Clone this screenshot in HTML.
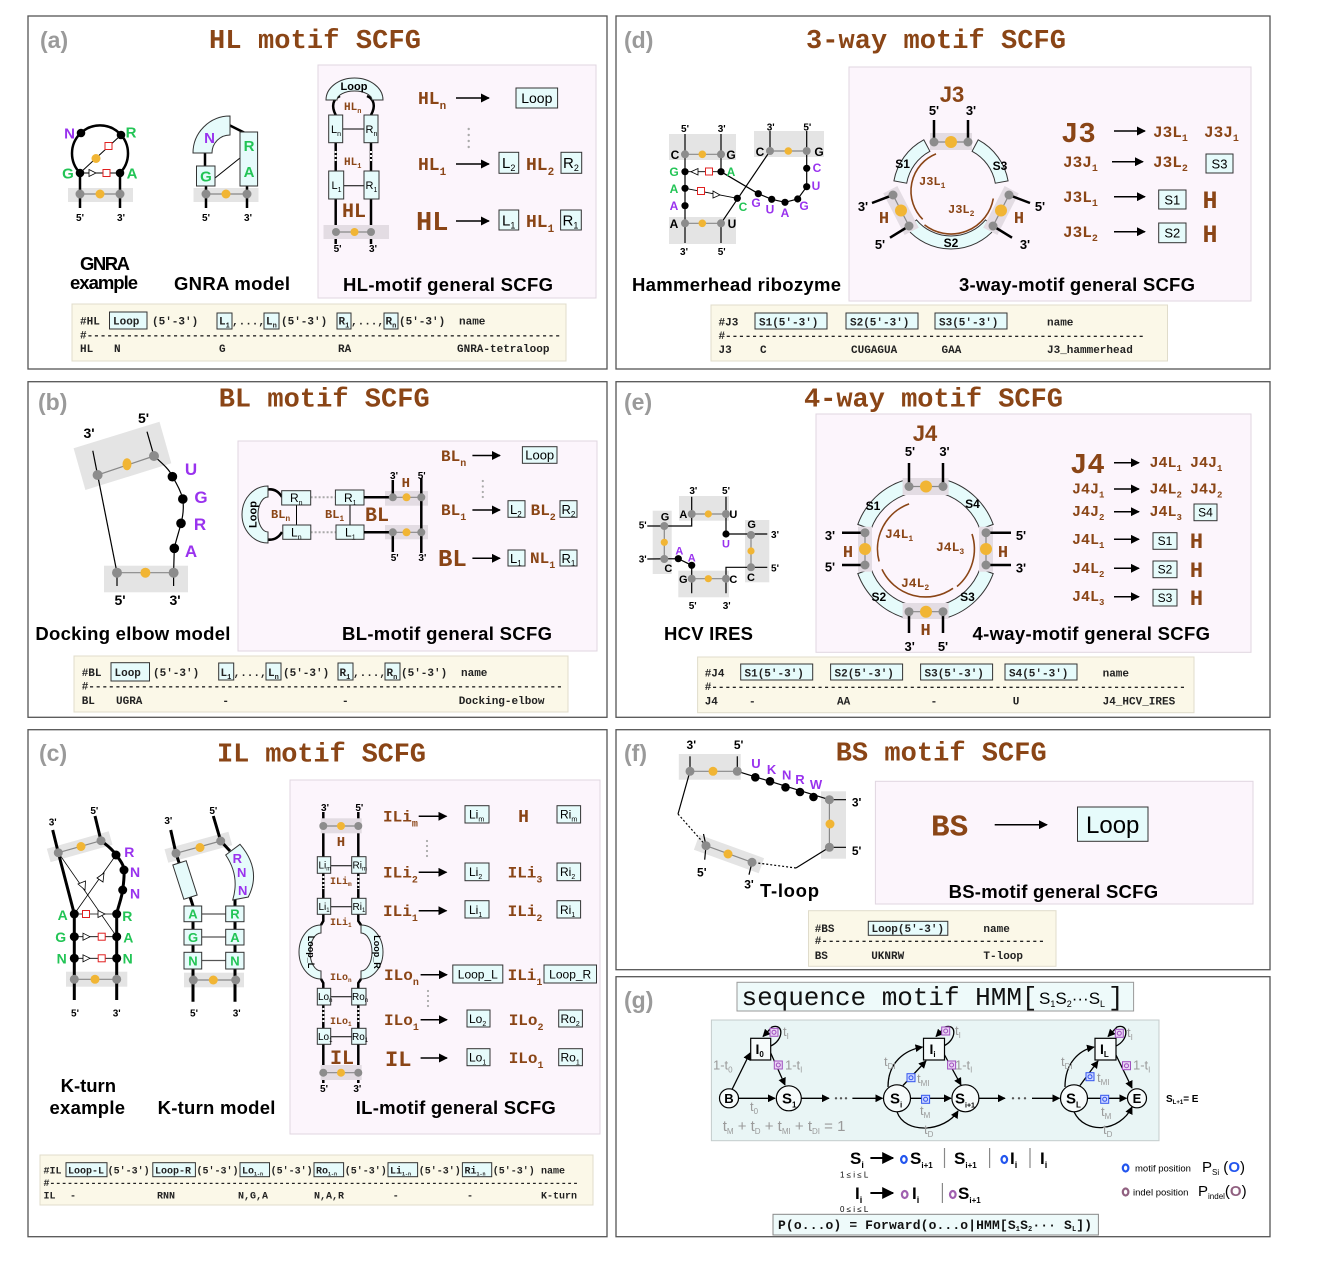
<!DOCTYPE html>
<html><head><meta charset="utf-8">
<style>
html,body{margin:0;padding:0;background:#fff;}
svg{display:block;}
.pl{font:bold 23px "Liberation Sans",sans-serif;fill:#9a9a9a}
.ttl{font:bold 27px "Liberation Mono",monospace;fill:#8a4516}
.cap{font:bold 18.5px "Liberation Sans",sans-serif;fill:#000}
.br{font-family:"Liberation Mono",monospace;font-weight:bold;fill:#8a4516}
.tb{font:bold 11px "Liberation Mono",monospace;fill:#222}
.tb10{font:bold 10px "Liberation Mono",monospace;fill:#222}
.sf{font-family:"Liberation Sans",sans-serif;font-weight:bold}
.sn{font-family:"Liberation Sans",sans-serif;fill:#000}
.bx{fill:#e6fbfb;stroke:#333;stroke-width:1}
.bnd{fill:#e4e4e4}
.bndp{fill:#e3dce3}
.gn{fill:#8c8c8c}
.yn{fill:#f1b534}
.bn{fill:#000}
.th{stroke:#000;stroke-width:2.5;fill:none}
.tn{stroke:#000;stroke-width:1;fill:none}
.gl{stroke:#888;stroke-width:1.2}
.rs{fill:#fff;stroke:#e02020;stroke-width:1}
.tri{fill:#fff;stroke:#000;stroke-width:0.8}
.ar{stroke:#000;stroke-width:1.5;marker-end:url(#ah)}
.ar2{stroke:#000;stroke-width:1.3;fill:none;marker-end:url(#ah)}
.g{fill:#22c455}
.pu{fill:#9932ee}
.p{font:bold 10px "Liberation Sans",sans-serif;fill:#000}
.gy{fill:#9a9a9a;font-family:"Liberation Sans",sans-serif}
.frame{fill:none;stroke:#555;stroke-width:1.3}
.pink{fill:#fcf5fc;stroke:#e0d6e0;stroke-width:1}
.tab{fill:#fbf8e8;stroke:#e0dccb;stroke-width:1}
.sqb{fill:#cfd8ff;stroke:#3355ee;stroke-width:1}
.sqp{fill:#ead6f4;stroke:#a050c0;stroke-width:1}
</style></head><body>
<svg xmlns="http://www.w3.org/2000/svg" width="1322" height="1276" viewBox="0 0 1322 1276">
<defs>
<marker id="ah" viewBox="0 0 10 10" refX="9" refY="5" markerWidth="6" markerHeight="6" orient="auto"><path d="M0,0 L10,5 L0,10 z" fill="#000"/></marker>
</defs>
<rect x="0" y="0" width="1322" height="1276" fill="#fff"/>

<!-- ================= PANEL A ================= -->
<rect class="frame" x="28" y="16" width="579" height="353"/>
<text class="pl" x="40" y="48">(a)</text>
<text class="ttl" x="209" y="48" textLength="212">HL motif SCFG</text>
<!-- GNRA example -->
<rect class="bnd" x="68" y="188" width="65" height="14"/>
<line x1="80" y1="173" x2="80" y2="208" stroke="#000" stroke-width="2.5"/>
<line x1="120" y1="173" x2="120" y2="208" stroke="#000" stroke-width="2.5"/>
<line class="gl" x1="80" y1="194" x2="120" y2="194"/>
<path class="th" d="M80,173 A28,28 0 1 1 120,173"/>
<line class="tn" stroke-width="0.8" x1="80" y1="173" x2="121" y2="135"/>
<line class="tn" stroke-width="0.8" x1="80" y1="173" x2="120" y2="173"/>
<circle class="yn" cx="96" cy="158.5" r="4.5"/>
<rect class="rs" x="105" y="142.5" width="7" height="7"/>
<polygon class="tri" points="89,169.5 96,173 89,176.5"/>
<rect class="rs" x="103" y="169.5" width="7" height="7"/>
<circle class="bn" cx="80" cy="173" r="4.3"/><circle class="bn" cx="120" cy="173" r="4.3"/>
<circle class="bn" cx="81" cy="133" r="4.3"/><circle class="bn" cx="121" cy="135" r="4.3"/>
<circle class="gn" cx="80" cy="194" r="4.5"/><circle class="gn" cx="120" cy="194" r="4.5"/><circle class="yn" cx="100" cy="194" r="4.5"/>
<text class="sf pu" font-size="15" x="69.5" y="138.5" text-anchor="middle">N</text>
<text class="sf g" font-size="15" x="131" y="137.5" text-anchor="middle">R</text>
<text class="sf g" font-size="15" x="68" y="178.5" text-anchor="middle">G</text>
<text class="sf g" font-size="15" x="132" y="178.5" text-anchor="middle">A</text>
<text class="p" x="80" y="221" text-anchor="middle">5'</text><text class="p" x="121" y="221" text-anchor="middle">3'</text>
<text class="cap" x="80" y="270" textLength="50">GNRA</text>
<text class="cap" x="70" y="289" textLength="68">example</text>
<!-- GNRA model -->
<rect class="bnd" x="193.5" y="188" width="65" height="14"/>
<line x1="206" y1="186" x2="206" y2="208" stroke="#000" stroke-width="2.5"/>
<line x1="247" y1="186" x2="247" y2="208" stroke="#000" stroke-width="2.5"/>
<line class="gl" x1="206" y1="194" x2="247" y2="194"/>
<circle class="gn" cx="206" cy="194" r="4.5"/><circle class="gn" cx="247" cy="194" r="4.5"/><circle class="yn" cx="226" cy="194" r="4.5"/>
<line x1="205" y1="166" x2="205" y2="152" stroke="#000" stroke-width="2.5"/>
<line x1="229" y1="125" x2="245" y2="133" stroke="#000" stroke-width="2.5"/>
<line class="tn" x1="215" y1="178" x2="240" y2="158"/>
<path class="bx" d="M193,153 A37,37 0 0 1 230,116 L230,135 A18,18 0 0 0 212,153 Z"/>
<rect class="bx" x="196.5" y="166" width="18.5" height="20"/>
<rect class="bx" x="240" y="132" width="17.6" height="54"/>
<text class="sf pu" font-size="15" x="209.5" y="143" text-anchor="middle">N</text>
<text class="sf g" font-size="15" x="249" y="151" text-anchor="middle">R</text>
<text class="sf g" font-size="15" x="249" y="177" text-anchor="middle">A</text>
<text class="sf g" font-size="15" x="206" y="181.5" text-anchor="middle">G</text>
<text class="p" x="206" y="221" text-anchor="middle">5'</text><text class="p" x="248" y="221" text-anchor="middle">3'</text>
<text class="cap" x="174" y="290" textLength="116">GNRA model</text>
<!-- HL general -->
<rect class="pink" x="318" y="65" width="278" height="233"/>
<path class="th" d="M335.7,115 C331,106 333,99 340,96"/>
<path class="th" d="M371,115 C376,106 374,99 367,96"/>
<path class="bx" d="M326,100 A28.5,22 0 0 1 383,100 L372,100 A17.5,9 0 0 0 337,100 Z"/>
<text class="sf" font-size="11" x="354" y="90" text-anchor="middle">Loop</text>
<text class="br" font-size="11" x="344" y="110">HL<tspan font-size="7" dy="3">n</tspan></text>
<line x1="335.7" y1="142" x2="335.7" y2="172" stroke="#000" stroke-width="2.5"/>
<line x1="371" y1="142" x2="371" y2="172" stroke="#000" stroke-width="2.5"/>
<line x1="335.7" y1="151" x2="335.7" y2="162" stroke="#fff" stroke-width="2" stroke-dasharray="2,2"/>
<line x1="371" y1="151" x2="371" y2="162" stroke="#fff" stroke-width="2" stroke-dasharray="2,2"/>
<line x1="335.7" y1="199" x2="335.7" y2="244" stroke="#000" stroke-width="2.5"/>
<line x1="371" y1="199" x2="371" y2="244" stroke="#000" stroke-width="2.5"/>
<line class="tn" x1="342" y1="129" x2="364" y2="129"/>
<line class="tn" x1="343" y1="185.7" x2="364" y2="185.7"/>
<rect class="bx" x="328.7" y="115" width="14" height="27.7"/><text class="sn" font-size="11" x="331" y="133">L<tspan font-size="7" dy="3">n</tspan></text>
<rect class="bx" x="364" y="115" width="14" height="27.7"/><text class="sn" font-size="11" x="365.5" y="133">R<tspan font-size="7" dy="3">n</tspan></text>
<text class="br" font-size="11" x="344" y="165">HL<tspan font-size="7" dy="3">1</tspan></text>
<rect class="bx" x="328.7" y="171" width="15" height="28"/><text class="sn" font-size="11" x="331.5" y="189">L<tspan font-size="7" dy="3">1</tspan></text>
<rect class="bx" x="364" y="171" width="15" height="28"/><text class="sn" font-size="11" x="365.5" y="189">R<tspan font-size="7" dy="3">1</tspan></text>
<text class="br" font-size="20" x="342" y="217">HL</text>
<rect class="bndp" x="323.5" y="225" width="65.5" height="14"/>
<line class="gl" x1="336" y1="232" x2="371" y2="232"/>
<circle class="gn" cx="336" cy="232" r="4"/><circle class="gn" cx="371" cy="232" r="4"/><circle class="yn" cx="354.5" cy="232" r="4"/>
<text class="p" font-size="9" x="337.6" y="252" text-anchor="middle">5'</text><text class="p" font-size="9" x="373" y="252" text-anchor="middle">3'</text>
<text class="br" font-size="18" x="418" y="104">HL<tspan font-size="11" dy="5">n</tspan></text>
<line class="ar" x1="456" y1="98" x2="489" y2="98"/>
<rect class="bx" x="516" y="88" width="41.6" height="20"/><text class="sn" font-size="14" x="536.8" y="103" text-anchor="middle">Loop</text>
<circle cx="468.7" cy="129" r="1.2" fill="#aaa"/><circle cx="468.7" cy="135" r="1.2" fill="#aaa"/><circle cx="468.7" cy="141" r="1.2" fill="#aaa"/><circle cx="468.7" cy="147" r="1.2" fill="#aaa"/>
<text class="br" font-size="18" x="418" y="170">HL<tspan font-size="11" dy="5">1</tspan></text>
<line class="ar" x1="456" y1="164" x2="489" y2="164"/>
<rect class="bx" x="499" y="152.3" width="19.7" height="21"/><text class="sn" font-size="15" x="502" y="168">L<tspan font-size="9" dy="3">2</tspan></text>
<text class="br" font-size="18" x="526" y="170">HL<tspan font-size="11" dy="5">2</tspan></text>
<rect class="bx" x="561" y="152.3" width="20.7" height="21"/><text class="sn" font-size="15" x="563" y="168">R<tspan font-size="9" dy="3">2</tspan></text>
<text class="br" font-size="27" x="416" y="230">HL</text>
<line class="ar" x1="456" y1="221" x2="489" y2="221"/>
<rect class="bx" x="499" y="210" width="19.7" height="20"/><text class="sn" font-size="15" x="502" y="225.5">L<tspan font-size="9" dy="3">1</tspan></text>
<text class="br" font-size="18" x="526" y="227">HL<tspan font-size="11" dy="5">1</tspan></text>
<rect class="bx" x="560.6" y="210" width="20.7" height="20"/><text class="sn" font-size="15" x="562.5" y="225.5">R<tspan font-size="9" dy="3">1</tspan></text>
<text class="cap" x="343" y="291" textLength="210">HL-motif general SCFG</text>
<!-- table a -->
<rect class="tab" x="72" y="304" width="494" height="57"/>
<text class="tb" x="80" y="324.5">#HL</text>
<rect class="bx" x="109.5" y="312" width="37.5" height="17"/><text class="tb" x="113" y="324.5">Loop</text>
<text class="tb" x="152" y="324.5">(5'-3')</text>
<rect class="bx" x="217" y="313" width="15" height="16"/><text class="tb" x="219" y="324.5">L<tspan font-size="7" dy="3">1</tspan></text>
<text class="tb" x="232" y="324.5">,...,</text>
<rect class="bx" x="264" y="313" width="15" height="16"/><text class="tb" x="266" y="324.5">L<tspan font-size="7" dy="3">n</tspan></text>
<text class="tb" x="281" y="324.5">(5'-3')</text>
<rect class="bx" x="337" y="313" width="14" height="16"/><text class="tb" x="338.5" y="324.5">R<tspan font-size="7" dy="3">1</tspan></text>
<text class="tb" x="351" y="324.5">,...,</text>
<rect class="bx" x="384" y="313" width="14" height="16"/><text class="tb" x="385.5" y="324.5">R<tspan font-size="7" dy="3">n</tspan></text>
<text class="tb" x="399" y="324.5">(5'-3')</text>
<text class="tb" x="459" y="324.5">name</text>
<text class="tb" x="80" y="338.5" textLength="481">#------------------------------------------------------------------------</text>
<text class="tb" x="80" y="352">HL</text><text class="tb" x="114" y="352">N</text><text class="tb" x="219" y="352">G</text><text class="tb" x="338" y="352">RA</text><text class="tb" x="457" y="352">GNRA-tetraloop</text>

<!-- ================= PANEL D ================= -->
<rect class="frame" x="616" y="16" width="654" height="353"/>
<text class="pl" x="624" y="48">(d)</text>
<text class="ttl" x="806" y="48" textLength="260">3-way motif SCFG</text>
<!-- hammerhead -->
<rect class="bnd" x="669" y="134" width="67" height="26"/>
<rect class="bnd" x="669" y="217" width="67" height="27"/>
<rect class="bnd" x="754" y="131" width="70" height="26"/>
<g stroke="#000" stroke-width="1.2" fill="none">
<line x1="685" y1="134" x2="685" y2="243"/>
<line x1="721" y1="134" x2="721" y2="172"/>
<line x1="721" y1="223" x2="721" y2="243"/>
<line x1="721" y1="223.3" x2="770" y2="151"/>
<line x1="770" y1="131" x2="770" y2="151"/>
<line x1="806.7" y1="131" x2="806.7" y2="187"/>
<polyline points="721,171.7 758.3,193.7 771.7,199.3 785,202.3 797.7,199 806.7,186.7"/>
<line x1="685" y1="171.7" x2="721" y2="171.7" stroke-width="0.8"/>
<line x1="685" y1="188.3" x2="737.3" y2="198.3" stroke-width="0.8"/>
</g>
<line class="gl" x1="685" y1="154.3" x2="721" y2="154.3"/>
<line class="gl" x1="685" y1="223.3" x2="721" y2="223.3"/>
<line class="gl" x1="770" y1="151" x2="806.7" y2="151"/>
<polygon class="tri" points="698,168.5 691,171.7 698,175"/>
<rect class="rs" x="705.5" y="168" width="7" height="7"/>
<rect class="rs" x="697.5" y="187.5" width="7" height="7"/>
<polygon class="tri" points="713,191 720,195 713,198"/>
<circle class="gn" cx="685" cy="154.3" r="4"/><circle class="yn" cx="702.3" cy="154.3" r="3.8"/><circle class="gn" cx="721" cy="154.3" r="4"/>
<circle class="gn" cx="685" cy="223.3" r="4"/><circle class="yn" cx="702.3" cy="223.3" r="3.8"/><circle class="gn" cx="721" cy="223.3" r="4"/>
<circle class="gn" cx="770" cy="151" r="4"/><circle class="yn" cx="788.3" cy="151" r="3.8"/><circle class="gn" cx="806.7" cy="151" r="4"/>
<g class="bn">
<circle cx="685" cy="171.7" r="3.6"/><circle cx="685" cy="188.3" r="3.6"/><circle cx="685" cy="205.7" r="3.6"/>
<circle cx="721" cy="171.7" r="3.6"/><circle cx="737.3" cy="198.3" r="3.6"/>
<circle cx="758.3" cy="193.7" r="3.6"/><circle cx="771.7" cy="199.3" r="3.6"/><circle cx="785" cy="202.3" r="3.6"/><circle cx="797.7" cy="199" r="3.6"/>
<circle cx="806.7" cy="186.7" r="3.6"/><circle cx="806.7" cy="168.3" r="3.6"/>
</g>
<g class="sf" font-size="12" text-anchor="middle">
<text x="675" y="159">C</text><text x="731" y="159">G</text>
<text class="g" x="674" y="176">G</text><text class="g" x="674" y="193">A</text><text class="pu" x="674" y="210">A</text><text x="674" y="228">A</text>
<text class="g" x="731" y="176">A</text><text x="732" y="228">U</text>
<text x="760" y="156">C</text><text x="819" y="156">G</text>
<text class="pu" x="817" y="172">C</text><text class="pu" x="816" y="190">U</text>
<text class="g" x="743" y="211">C</text><text class="pu" x="756" y="207">G</text><text class="pu" x="770" y="213.5">U</text><text class="pu" x="785" y="217">A</text><text class="pu" x="804" y="210">G</text>
</g>
<g class="p" font-size="9" text-anchor="middle">
<text x="685" y="132">5'</text><text x="721.7" y="132">3'</text>
<text x="770.7" y="130.5">3'</text><text x="807.3" y="130.5">5'</text>
<text x="684" y="255">3'</text><text x="721.7" y="255">5'</text>
</g>
<text class="cap" x="632" y="291" textLength="209">Hammerhead ribozyme</text>
<!-- 3-way general -->
<rect class="pink" x="849" y="67" width="402" height="234"/>
<path class="bx" d="M893.9,180.9 A58,58 0 0 1 923.8,139.8 L929.9,151.3 A45,45 0 0 0 906.7,183.2 Z"/>
<path class="bx" d="M978.2,139.8 A58,58 0 0 1 1008.1,180.9 L995.3,183.2 A45,45 0 0 0 972.1,151.3 Z"/>
<path class="bx" d="M995.4,228.3 A58,58 0 0 1 906.6,228.3 L916.5,219.9 A45,45 0 0 0 985.5,219.9 Z"/>
<text class="sf" font-size="12" x="902.6" y="168" text-anchor="middle">S1</text>
<text class="sf" font-size="12" x="1000" y="170" text-anchor="middle">S3</text>
<text class="sf" font-size="12" x="951" y="247" text-anchor="middle">S2</text>
<rect class="bndp" x="930" y="133" width="42" height="17"/>
<line x1="934" y1="120" x2="934" y2="142" stroke="#000" stroke-width="2.5"/>
<line x1="968" y1="120" x2="968" y2="142" stroke="#000" stroke-width="2.5"/>
<line class="gl" x1="934" y1="142" x2="968" y2="142"/>
<circle class="gn" cx="934" cy="142" r="4.5"/><circle class="gn" cx="968" cy="142" r="4.5"/><circle class="yn" cx="951" cy="142" r="6"/>
<polygon class="bndp" points="897.4,186 918.8,227.6 904.6,235 883.2,193.4"/>
<polygon class="bndp" points="1004.6,186 983.2,227.6 997.4,235 1018.8,193.4"/>
<line x1="893" y1="195" x2="872" y2="203" stroke="#000" stroke-width="2.5"/>
<line x1="909" y1="226" x2="890" y2="237.7" stroke="#000" stroke-width="2.5"/>
<line x1="1009" y1="195" x2="1030" y2="203" stroke="#000" stroke-width="2.5"/>
<line x1="993" y1="226" x2="1012" y2="237.7" stroke="#000" stroke-width="2.5"/>
<line class="gl" x1="893" y1="195" x2="909" y2="226"/><line class="gl" x1="1009" y1="195" x2="993" y2="226"/>
<circle class="gn" cx="893" cy="195" r="4.5"/><circle class="gn" cx="909" cy="226" r="4.5"/><circle class="yn" cx="901" cy="210.5" r="6"/>
<circle class="gn" cx="1009" cy="195" r="4.5"/><circle class="gn" cx="993" cy="226" r="4.5"/><circle class="yn" cx="1001" cy="210.5" r="6"/>
<path d="M936,153.9 A40,40 0 0 0 922.7,219.3" fill="none" stroke="#8a4516" stroke-width="1.6"/>
<path d="M924.5,224.9 A43,43 0 0 0 993.3,198.5" fill="none" stroke="#8a4516" stroke-width="1.6"/>
<text class="br" font-size="12" x="919" y="185">J3L<tspan font-size="8" dy="3">1</tspan></text>
<text class="br" font-size="12" x="948" y="213">J3L<tspan font-size="8" dy="3">2</tspan></text>
<text class="sf" font-size="22" fill="#8a4516" x="952" y="102" text-anchor="middle">J3</text>
<g class="sf" font-size="13" text-anchor="middle">
<text x="934" y="115">5'</text><text x="971" y="115">3'</text>
<text x="863" y="211">3'</text><text x="880" y="249">5'</text>
<text x="1040" y="211">5'</text><text x="1025" y="249">3'</text>
</g>
<text class="br" font-size="17" x="884" y="223" text-anchor="middle">H</text>
<text class="br" font-size="17" x="1019" y="223" text-anchor="middle">H</text>
<text class="br" font-size="29" x="1061" y="142">J3</text>
<line class="ar" x1="1114" y1="131" x2="1145" y2="131"/>
<text class="br" font-size="16" x="1153" y="137">J3L<tspan font-size="10" dy="4">1</tspan></text>
<text class="br" font-size="16" x="1204" y="137">J3J<tspan font-size="10" dy="4">1</tspan></text>
<text class="br" font-size="16" x="1063" y="167">J3J<tspan font-size="10" dy="4">1</tspan></text>
<line class="ar" x1="1112" y1="161.7" x2="1143" y2="161.7"/>
<text class="br" font-size="16" x="1153" y="167">J3L<tspan font-size="10" dy="4">2</tspan></text>
<rect class="bx" x="1206" y="154" width="27" height="19"/><text class="sn" font-size="13" x="1219.5" y="168.5" text-anchor="middle">S3</text>
<text class="br" font-size="16" x="1063" y="202">J3L<tspan font-size="10" dy="4">1</tspan></text>
<line class="ar" x1="1114" y1="196.7" x2="1145" y2="196.7"/>
<rect class="bx" x="1158.7" y="190" width="27.3" height="19"/><text class="sn" font-size="13" x="1172.3" y="204.5" text-anchor="middle">S1</text>
<text class="br" font-size="25" x="1210" y="208" text-anchor="middle">H</text>
<text class="br" font-size="16" x="1063" y="237">J3L<tspan font-size="10" dy="4">2</tspan></text>
<line class="ar" x1="1114" y1="231.7" x2="1145" y2="231.7"/>
<rect class="bx" x="1158.7" y="223" width="27.3" height="19.7"/><text class="sn" font-size="13" x="1172.3" y="237.5" text-anchor="middle">S2</text>
<text class="br" font-size="25" x="1210" y="242" text-anchor="middle">H</text>
<text class="cap" x="959" y="291" textLength="236">3-way-motif general SCFG</text>
<!-- table d -->
<rect class="tab" x="711" y="305" width="456.5" height="56"/>
<text class="tb" x="718.5" y="325.5">#J3</text>
<rect class="bx" x="755" y="313" width="72" height="16"/><text class="tb" x="759" y="325.5">S1(5'-3')</text>
<rect class="bx" x="846" y="313" width="72" height="16"/><text class="tb" x="850" y="325.5">S2(5'-3')</text>
<rect class="bx" x="935" y="313" width="72" height="16"/><text class="tb" x="939" y="325.5">S3(5'-3')</text>
<text class="tb" x="1047" y="325.5">name</text>
<text class="tb" x="718.5" y="339" textLength="426">#----------------------------------------------------------------</text>
<text class="tb" x="718.5" y="353">J3</text><text class="tb" x="760" y="353">C</text><text class="tb" x="851" y="353">CUGAGUA</text><text class="tb" x="941.5" y="353">GAA</text><text class="tb" x="1047" y="353">J3_hammerhead</text>

<!-- ================= PANEL B ================= -->
<rect class="frame" x="28" y="381.7" width="579" height="335.6"/>
<text class="pl" x="38" y="410">(b)</text>
<text class="ttl" x="218.7" y="406.7" textLength="211">BL motif SCFG</text>
<!-- docking elbow -->
<polygon class="bnd" points="73.6,448.3 159.5,421.7 171.3,463.3 85.4,490"/>
<rect class="bnd" x="104" y="565.7" width="84" height="26.6"/>
<g stroke="#000" stroke-width="1.2" fill="none">
<line x1="92.8" y1="450.7" x2="97.6" y2="475"/>
<line x1="147" y1="431.7" x2="154" y2="456"/>
<line x1="97.6" y1="475" x2="117" y2="572.7"/>
<path d="M154,456 C163,464 170,470 172.4,476.7 C177,484 181,492 182.8,499 C184,508 183,516 181,523.3 C179,532 176,540 174.3,548.3 L173.6,572.7"/>
<line x1="117" y1="572.7" x2="117" y2="586"/><line x1="173.6" y1="572.7" x2="173.6" y2="586"/>
</g>
<line class="gl" x1="97.6" y1="475" x2="154" y2="456"/>
<line class="gl" x1="117" y1="572.7" x2="173.6" y2="572.7"/>
<circle class="gn" cx="97.6" cy="475" r="5"/><circle class="gn" cx="154" cy="456" r="5"/><ellipse class="yn" cx="127" cy="464.3" rx="4.5" ry="6"/>
<circle class="gn" cx="117" cy="572.7" r="5"/><circle class="gn" cx="173.6" cy="572.7" r="5"/><circle class="yn" cx="145.4" cy="572.7" r="5"/>
<circle class="bn" cx="172.4" cy="476.7" r="4.8"/><circle class="bn" cx="182.8" cy="499" r="4.8"/><circle class="bn" cx="181" cy="523.3" r="4.8"/><circle class="bn" cx="174.3" cy="548.3" r="4.8"/>
<g class="sf pu" font-size="17" text-anchor="middle">
<text x="191" y="475">U</text><text x="201" y="503">G</text><text x="200" y="530">R</text><text x="191" y="557">A</text>
</g>
<g class="sf" font-size="14" text-anchor="middle">
<text x="89" y="438">3'</text><text x="143.5" y="423">5'</text>
<text x="120" y="605">5'</text><text x="175" y="605">3'</text>
</g>
<text class="cap" x="35.4" y="640" textLength="195">Docking elbow model</text>
<!-- BL general -->
<rect class="pink" x="238" y="441" width="359" height="210"/>
<path class="th" d="M265,490 Q276,487 282,497"/>
<path class="th" d="M265,539 Q276,542 282,532"/>
<path class="bx" d="M268,486 A26,28.5 0 0 0 268,543 L268,532 A10,17.5 0 0 1 268,497 Z"/>
<text class="sf" font-size="11" transform="translate(256.5,514.5) rotate(-90)" text-anchor="middle">Loop</text>
<line class="tn" x1="296.5" y1="505" x2="296.5" y2="525"/>
<line class="tn" x1="350" y1="505" x2="350" y2="525"/>
<line x1="310.6" y1="497.3" x2="335.4" y2="497.3" stroke="#aaa" stroke-width="2" stroke-dasharray="2,2"/>
<line x1="310.6" y1="532.3" x2="336" y2="532.3" stroke="#aaa" stroke-width="2" stroke-dasharray="2,2"/>
<rect class="bx" x="281.7" y="490.7" width="29" height="14.3"/><text class="sn" font-size="12" x="290" y="502">R<tspan font-size="7" dy="3">n</tspan></text>
<rect class="bx" x="282.8" y="525" width="28" height="14.3"/><text class="sn" font-size="12" x="291" y="536.5">L<tspan font-size="7" dy="3">n</tspan></text>
<rect class="bx" x="335.4" y="490" width="28.6" height="15"/><text class="sn" font-size="12" x="344" y="502">R<tspan font-size="7" dy="3">1</tspan></text>
<rect class="bx" x="336" y="525" width="28" height="14.3"/><text class="sn" font-size="12" x="345" y="536.5">L<tspan font-size="7" dy="3">1</tspan></text>
<text class="br" font-size="12" x="271" y="518">BL<tspan font-size="8" dy="3">n</tspan></text>
<text class="br" font-size="12" x="325" y="518">BL<tspan font-size="8" dy="3">1</tspan></text>
<text class="br" font-size="20" x="365" y="521">BL</text>
<rect class="bndp" x="385" y="491" width="43" height="14.7"/>
<rect class="bndp" x="385" y="525" width="43" height="14.3"/>
<line x1="364" y1="497.3" x2="392.8" y2="497.3" stroke="#000" stroke-width="2.5"/>
<line x1="364" y1="532.3" x2="392.8" y2="532.3" stroke="#000" stroke-width="2.5"/>
<line x1="392.8" y1="480" x2="392.8" y2="497.3" stroke="#000" stroke-width="2.5"/>
<line x1="392.8" y1="532.3" x2="392.8" y2="552" stroke="#000" stroke-width="2.5"/>
<line x1="421.3" y1="478" x2="421.3" y2="553" stroke="#000" stroke-width="2.5"/>
<line class="gl" x1="392.8" y1="497.3" x2="421.3" y2="497.3"/><line class="gl" x1="392.8" y1="532.3" x2="421.3" y2="532.3"/>
<circle class="gn" cx="392.8" cy="497.3" r="4"/><circle class="gn" cx="421.3" cy="497.3" r="4"/><circle class="yn" cx="406.5" cy="497.3" r="4"/>
<circle class="gn" cx="392.8" cy="532.3" r="4"/><circle class="gn" cx="421.3" cy="532.3" r="4"/><circle class="yn" cx="406.5" cy="532.3" r="4"/>
<g class="p" font-size="9" text-anchor="middle">
<text x="394" y="479">3'</text><text x="421.7" y="479">5'</text><text x="394.7" y="561">5'</text><text x="422.4" y="561">3'</text>
</g>
<text class="br" font-size="14" x="405.8" y="487" text-anchor="middle">H</text>
<text class="br" font-size="16" x="441" y="461">BL<tspan font-size="10" dy="5">n</tspan></text>
<line class="ar" x1="472.4" y1="455.5" x2="500" y2="455.5"/>
<rect class="bx" x="522.4" y="446.7" width="34.6" height="16.6"/><text class="sn" font-size="13" x="539.7" y="459.5" text-anchor="middle">Loop</text>
<circle cx="482.8" cy="481" r="1.1" fill="#aaa"/><circle cx="482.8" cy="486.5" r="1.1" fill="#aaa"/><circle cx="482.8" cy="492" r="1.1" fill="#aaa"/><circle cx="482.8" cy="497" r="1.1" fill="#aaa"/>
<text class="br" font-size="16" x="441" y="515">BL<tspan font-size="10" dy="5">1</tspan></text>
<line class="ar" x1="472.4" y1="510" x2="500" y2="510"/>
<rect class="bx" x="508" y="500.7" width="17" height="16.6"/><text class="sn" font-size="13" x="510" y="514">L<tspan font-size="8" dy="3">2</tspan></text>
<text class="br" font-size="16" x="530.6" y="515">BL<tspan font-size="10" dy="5">2</tspan></text>
<rect class="bx" x="560" y="500.7" width="17" height="16.6"/><text class="sn" font-size="13" x="561.5" y="514">R<tspan font-size="8" dy="3">2</tspan></text>
<text class="br" font-size="24" x="438" y="566">BL</text>
<line class="ar" x1="472.4" y1="558.3" x2="500" y2="558.3"/>
<rect class="bx" x="508" y="550" width="17" height="16"/><text class="sn" font-size="13" x="510" y="563">L<tspan font-size="8" dy="3">1</tspan></text>
<text class="br" font-size="16" x="530" y="563">NL<tspan font-size="10" dy="5">1</tspan></text>
<rect class="bx" x="560" y="550" width="17" height="16"/><text class="sn" font-size="13" x="561.5" y="563">R<tspan font-size="8" dy="3">1</tspan></text>
<text class="cap" x="342" y="640" textLength="210">BL-motif general SCFG</text>
<!-- table b -->
<rect class="tab" x="74" y="656" width="494" height="56"/>
<text class="tb" x="81.7" y="676">#BL</text>
<rect class="bx" x="111" y="662.7" width="38.5" height="18.3"/><text class="tb" x="114.5" y="676">Loop</text>
<text class="tb" x="153" y="676">(5'-3')</text>
<rect class="bx" x="218.7" y="663" width="15" height="17"/><text class="tb" x="220.5" y="676">L<tspan font-size="7" dy="3">1</tspan></text>
<text class="tb" x="233.6" y="676">,...,</text>
<rect class="bx" x="266" y="663" width="15" height="17"/><text class="tb" x="268" y="676">L<tspan font-size="7" dy="3">n</tspan></text>
<text class="tb" x="283" y="676">(5'-3')</text>
<rect class="bx" x="338" y="663" width="15" height="17"/><text class="tb" x="339.5" y="676">R<tspan font-size="7" dy="3">1</tspan></text>
<text class="tb" x="353" y="676">,...,</text>
<rect class="bx" x="385" y="663" width="15" height="17"/><text class="tb" x="386.5" y="676">R<tspan font-size="7" dy="3">n</tspan></text>
<text class="tb" x="401" y="676">(5'-3')</text>
<text class="tb" x="461" y="676">name</text>
<text class="tb" x="81.7" y="689.5" textLength="481">#------------------------------------------------------------------------</text>
<text class="tb" x="81.7" y="704">BL</text><text class="tb" x="116" y="704">UGRA</text><text class="tb" x="222.4" y="704">-</text><text class="tb" x="342" y="704">-</text><text class="tb" x="458.7" y="704">Docking-elbow</text>

<!-- ================= PANEL E ================= -->
<rect class="frame" x="616" y="381.7" width="654" height="335.6"/>
<text class="pl" x="624" y="410">(e)</text>
<text class="ttl" x="804" y="406.7" textLength="259">4-way motif SCFG</text>
<!-- HCV IRES -->
<rect class="bnd" x="679" y="496" width="50" height="24.7"/>
<rect class="bnd" x="652.7" y="510.7" width="19" height="63.3"/>
<rect class="bnd" x="745" y="520" width="24.3" height="62.3"/>
<rect class="bnd" x="678.3" y="570.7" width="50.7" height="26.6"/>
<g stroke="#000" stroke-width="1.2" fill="none">
<polyline points="691.7,496.7 691.7,526 647.3,526"/>
<polyline points="726,496.7 726,534 767.3,534"/>
<polyline points="647.3,559 678.3,558.7 691.7,565.3 691.7,593.3"/>
<polyline points="726,593.3 726,567.3 767.3,567.3"/>
</g>
<line class="gl" x1="691.7" y1="514" x2="726" y2="514"/>
<line class="gl" x1="664.3" y1="526" x2="664.3" y2="559"/>
<line class="gl" x1="751" y1="535" x2="751" y2="567.3"/>
<line class="gl" x1="691.7" y1="578.7" x2="726" y2="578.7"/>
<g class="gn"><circle cx="691.7" cy="514" r="4"/><circle cx="726" cy="514" r="4"/><circle cx="664.3" cy="526" r="4"/><circle cx="664.3" cy="559" r="4"/><circle cx="751" cy="535" r="4"/><circle cx="751" cy="567.3" r="4"/><circle cx="691.7" cy="578.7" r="4"/><circle cx="726" cy="578.7" r="4"/></g>
<g class="yn"><circle cx="708.3" cy="514" r="3.6"/><circle cx="664.3" cy="542.3" r="3.6"/><circle cx="751" cy="551" r="3.6"/><circle cx="708.3" cy="578.7" r="3.6"/></g>
<g class="bn"><circle cx="726" cy="534" r="3.6"/><circle cx="678.3" cy="558.7" r="3.6"/><circle cx="691.7" cy="565.3" r="3.6"/></g>
<g class="sf" font-size="11" text-anchor="middle">
<text x="683.3" y="518">A</text><text x="733.3" y="518">U</text>
<text x="665" y="520.5">G</text><text x="668.3" y="572">C</text>
<text x="751.7" y="528">G</text><text x="751" y="581">C</text>
<text x="683.3" y="583">G</text><text x="733.3" y="583">C</text>
<text class="pu" x="679.3" y="554.5">A</text><text class="pu" x="691.7" y="561.5">A</text><text class="pu" x="726" y="547.5">U</text>
</g>
<g class="p" font-size="9" text-anchor="middle">
<text x="693.3" y="494">3'</text><text x="726" y="494">5'</text>
<text x="642.7" y="528.5">5'</text><text x="642.7" y="562.5">3'</text>
<text x="775" y="538">3'</text><text x="775" y="571.5">5'</text>
<text x="692.7" y="609">5'</text><text x="726.7" y="609">3'</text>
</g>
<text class="cap" x="664" y="640" textLength="89">HCV IRES</text>
<!-- 4-way general -->
<rect class="pink" x="816" y="414" width="435" height="238.3"/>
<path class="bx" d="M857.8,524.4 A72,72 0 0 1 903.3,480.5 L907.6,493.8 A58,58 0 0 0 871,529.2 Z"/>
<path class="bx" d="M947.7,480.5 A72,72 0 0 1 993.2,524.4 L980,529.2 A58,58 0 0 0 943.4,493.8 Z"/>
<path class="bx" d="M993.2,573.6 A72,72 0 0 1 947.7,617.5 L943.4,604.2 A58,58 0 0 0 980,568.8 Z"/>
<path class="bx" d="M903.3,617.5 A72,72 0 0 1 857.8,573.6 L871,568.8 A58,58 0 0 0 907.6,604.2 Z"/>
<g class="sf" font-size="12" text-anchor="middle">
<text x="873" y="510">S1</text><text x="972.5" y="508">S4</text><text x="878.8" y="601">S2</text><text x="967.5" y="601">S3</text>
</g>
<rect class="bndp" x="902.6" y="478" width="46" height="17"/>
<rect class="bndp" x="902.6" y="603" width="46" height="16"/>
<rect class="bndp" x="858" y="526.7" width="14" height="45"/>
<rect class="bndp" x="979" y="526.7" width="14" height="45"/>
<g stroke="#000" stroke-width="2.5">
<line x1="909" y1="463" x2="909" y2="486.5"/><line x1="943" y1="463" x2="943" y2="486.5"/>
<line x1="909" y1="611.7" x2="909" y2="633"/><line x1="943" y1="611.7" x2="943" y2="633"/>
<line x1="865" y1="532.7" x2="842" y2="532.7"/><line x1="865" y1="565" x2="842" y2="565"/>
<line x1="986" y1="532.7" x2="1011" y2="532.7"/><line x1="986" y1="565" x2="1011" y2="565"/>
</g>
<line class="gl" x1="909" y1="486.5" x2="943" y2="486.5"/><line class="gl" x1="909" y1="611.7" x2="943" y2="611.7"/>
<line class="gl" x1="865" y1="532.7" x2="865" y2="565"/><line class="gl" x1="986" y1="532.7" x2="986" y2="565"/>
<g class="gn"><circle cx="909" cy="486.5" r="4.5"/><circle cx="943" cy="486.5" r="4.5"/><circle cx="909" cy="611.7" r="4.5"/><circle cx="943" cy="611.7" r="4.5"/><circle cx="865" cy="532.7" r="4.5"/><circle cx="865" cy="565" r="4.5"/><circle cx="986" cy="532.7" r="4.5"/><circle cx="986" cy="565" r="4.5"/></g>
<g class="yn"><circle cx="926" cy="486.5" r="6"/><circle cx="926" cy="611.7" r="6"/><circle cx="865" cy="549" r="6"/><circle cx="986" cy="549" r="6"/></g>
<path d="M909.1,503.9 A48,48 0 0 0 879.1,561.4" fill="none" stroke="#8a4516" stroke-width="1.6"/>
<path d="M882,569.3 A48,48 0 0 0 953,588.3" fill="none" stroke="#8a4516" stroke-width="1.6"/>
<path d="M957,586.5 A49,49 0 0 0 972,534" fill="none" stroke="#8a4516" stroke-width="1.6"/>
<text class="br" font-size="13" x="885" y="538">J4L<tspan font-size="8" dy="3">1</tspan></text>
<text class="br" font-size="13" x="936" y="551">J4L<tspan font-size="8" dy="3">3</tspan></text>
<text class="br" font-size="13" x="901" y="587">J4L<tspan font-size="8" dy="3">2</tspan></text>
<text class="sf" font-size="22" fill="#8a4516" x="925" y="441" text-anchor="middle">J4</text>
<g class="sf" font-size="13" text-anchor="middle">
<text x="910" y="456">5'</text><text x="944.5" y="456">3'</text>
<text x="830" y="540">3'</text><text x="830" y="571.5">5'</text>
<text x="1021" y="540">5'</text><text x="1021" y="572.5">3'</text>
<text x="909.7" y="651">3'</text><text x="943" y="651">5'</text>
</g>
<text class="br" font-size="17" x="848" y="557" text-anchor="middle">H</text>
<text class="br" font-size="17" x="1003" y="557" text-anchor="middle">H</text>
<text class="br" font-size="17" x="925.6" y="635" text-anchor="middle">H</text>
<text class="br" font-size="29" x="1070" y="473">J4</text>
<line class="ar" x1="1114" y1="462.7" x2="1139" y2="462.7"/>
<text class="br" font-size="15" x="1149.5" y="467">J4L<tspan font-size="9" dy="4">1</tspan></text>
<text class="br" font-size="15" x="1190" y="467">J4J<tspan font-size="9" dy="4">1</tspan></text>
<text class="br" font-size="15" x="1072" y="493.5">J4J<tspan font-size="9" dy="4">1</tspan></text>
<line class="ar" x1="1114" y1="489" x2="1139" y2="489"/>
<text class="br" font-size="15" x="1149.5" y="493.5">J4L<tspan font-size="9" dy="4">2</tspan></text>
<text class="br" font-size="15" x="1190" y="493.5">J4J<tspan font-size="9" dy="4">2</tspan></text>
<text class="br" font-size="15" x="1072" y="516">J4J<tspan font-size="9" dy="4">2</tspan></text>
<line class="ar" x1="1114" y1="511.7" x2="1139" y2="511.7"/>
<text class="br" font-size="15" x="1149.5" y="516">J4L<tspan font-size="9" dy="4">3</tspan></text>
<rect class="bx" x="1194" y="504" width="23" height="16.7"/><text class="sn" font-size="12" x="1205.5" y="516.5" text-anchor="middle">S4</text>
<text class="br" font-size="15" x="1072" y="544">J4L<tspan font-size="9" dy="4">1</tspan></text>
<line class="ar" x1="1114" y1="539.3" x2="1139" y2="539.3"/>
<rect class="bx" x="1153" y="532.7" width="24" height="16.6"/><text class="sn" font-size="12" x="1165" y="545" text-anchor="middle">S1</text>
<text class="br" font-size="22" x="1196.5" y="548" text-anchor="middle">H</text>
<text class="br" font-size="15" x="1072" y="573">J4L<tspan font-size="9" dy="4">2</tspan></text>
<line class="ar" x1="1114" y1="568.3" x2="1139" y2="568.3"/>
<rect class="bx" x="1153" y="561" width="24" height="16.7"/><text class="sn" font-size="12" x="1165" y="573.5" text-anchor="middle">S2</text>
<text class="br" font-size="22" x="1196.5" y="577" text-anchor="middle">H</text>
<text class="br" font-size="15" x="1072" y="601">J4L<tspan font-size="9" dy="4">3</tspan></text>
<line class="ar" x1="1114" y1="596.7" x2="1139" y2="596.7"/>
<rect class="bx" x="1153" y="589.3" width="24" height="16.7"/><text class="sn" font-size="12" x="1165" y="602" text-anchor="middle">S3</text>
<text class="br" font-size="22" x="1196.5" y="605" text-anchor="middle">H</text>
<text class="cap" x="972.5" y="640" textLength="237.5">4-way-motif general SCFG</text>
<!-- table e -->
<rect class="tab" x="697.6" y="657" width="496.4" height="55.7"/>
<text class="tb" x="704.7" y="676.5">#J4</text>
<rect class="bx" x="740.7" y="664" width="72" height="16"/><text class="tb" x="744.5" y="676.5">S1(5'-3')</text>
<rect class="bx" x="830.6" y="664" width="72" height="16"/><text class="tb" x="834.5" y="676.5">S2(5'-3')</text>
<rect class="bx" x="920.6" y="664" width="72" height="16"/><text class="tb" x="924.5" y="676.5">S3(5'-3')</text>
<rect class="bx" x="1005" y="664" width="72" height="16"/><text class="tb" x="1009" y="676.5">S4(5'-3')</text>
<text class="tb" x="1102.6" y="676.5">name</text>
<text class="tb" x="704.7" y="690" textLength="481">#------------------------------------------------------------------------</text>
<text class="tb" x="704.7" y="704.5">J4</text><text class="tb" x="749" y="704.5">-</text><text class="tb" x="837" y="704.5">AA</text><text class="tb" x="930.6" y="704.5">-</text><text class="tb" x="1012.7" y="704.5">U</text><text class="tb" x="1102.6" y="704.5">J4_HCV_IRES</text>

<!-- ================= PANEL C ================= -->
<rect class="frame" x="28" y="729.7" width="579" height="507"/>
<text class="pl" x="39" y="761">(c)</text>
<text class="ttl" x="217" y="761.3" textLength="209">IL motif SCFG</text>
<!-- K-turn example -->
<polygon class="bnd" points="50.6,862.1 46.8,848.7 108.7,831.3 112.5,844.7"/>
<rect class="bnd" x="66" y="971.7" width="61.3" height="15"/>
<path d="M52.7,830 L58.3,852.7 L74.3,914 L74.3,1000" fill="none" stroke="#000" stroke-width="3"/>
<path d="M95,816 L101,840.7 C108,846 113,850 116,855 C121,861 124,866 124,870 C124.5,877 123.5,884 122.7,890 C121.5,899 118,907 116.7,914 L116.7,1000" fill="none" stroke="#000" stroke-width="3"/>
<g stroke="#000" stroke-width="0.8">
<line x1="58.3" y1="852.7" x2="116.7" y2="936.7"/>
<line x1="116" y1="855" x2="74.3" y2="914"/>
<line x1="74.3" y1="914" x2="116.7" y2="914"/>
<line x1="74.3" y1="936.7" x2="116.7" y2="936.7"/>
<line x1="74.3" y1="958.3" x2="116.7" y2="958.3"/>
</g>
<line class="gl" x1="58.3" y1="852.7" x2="101" y2="840.7"/>
<line class="gl" x1="74.3" y1="979.3" x2="116.7" y2="979.3"/>
<polygon class="tri" points="78,884 85,890 85.5,881"/>
<polygon class="tri" points="97,878 104,873 103,882"/>
<rect class="rs" x="82.5" y="910.5" width="7" height="7"/>
<polygon class="tri" points="98,910.5 105,914 98,917.5"/>
<polygon class="tri" points="83,933.2 90,936.7 83,940.2"/>
<rect class="rs" x="98.2" y="933.2" width="7" height="7"/>
<polygon class="tri" points="83,954.8 90,958.3 83,961.8"/>
<rect class="rs" x="98.2" y="954.8" width="7" height="7" stroke="#f08080"/>
<g class="bn"><circle cx="116" cy="855" r="4.5"/><circle cx="124" cy="870" r="4.5"/><circle cx="122.7" cy="890" r="4.5"/><circle cx="74.3" cy="914" r="4.5"/><circle cx="116.7" cy="914" r="4.5"/><circle cx="74.3" cy="936.7" r="4.5"/><circle cx="116.7" cy="936.7" r="4.5"/><circle cx="74.3" cy="958.3" r="4.5"/><circle cx="116.7" cy="958.3" r="4.5"/></g>
<circle class="gn" cx="58.3" cy="852.7" r="4.5"/><circle class="gn" cx="101" cy="840.7" r="4.5"/><circle class="yn" cx="81" cy="846.5" r="4.5"/>
<circle class="gn" cx="74.3" cy="979.3" r="4.5"/><circle class="gn" cx="116.7" cy="979.3" r="4.5"/><circle class="yn" cx="95" cy="979.3" r="4.5"/>
<g class="sf" font-size="14" text-anchor="middle">
<text class="pu" x="129.3" y="857">R</text><text class="pu" x="135" y="877">N</text><text class="pu" x="135" y="898.5">N</text>
<text class="g" x="62.7" y="920">A</text><text class="g" x="60.7" y="942">G</text><text class="g" x="61.7" y="963.5">N</text>
<text class="g" x="127.3" y="921">R</text><text class="g" x="128.3" y="942.5">A</text><text class="g" x="127.7" y="963.5">N</text>
</g>
<g class="p" font-size="11" text-anchor="middle">
<text x="52.7" y="825.5">3'</text><text x="94.3" y="814">5'</text><text x="75" y="1016.5">5'</text><text x="116.7" y="1016.5">3'</text>
</g>
<text class="cap" x="60.6" y="1092" textLength="55.4">K-turn</text>
<text class="cap" x="49.5" y="1114" textLength="75.5">example</text>
<!-- K-turn model -->
<polygon class="bnd" points="168.3,862.7 164.5,849.3 228.4,831.7 232.2,845.1"/>
<rect class="bnd" x="184" y="972.7" width="60" height="14.6"/>
<path d="M170.7,830 L176,853.3 L193,906 L193,1001.7" fill="none" stroke="#000" stroke-width="3"/>
<path d="M213.3,816 L220.7,841 L230,851" fill="none" stroke="#000" stroke-width="3"/>
<line x1="235" y1="898" x2="235" y2="1001.7" stroke="#000" stroke-width="3"/>
<line class="gl" x1="176" y1="853.3" x2="220.7" y2="841"/>
<line class="gl" x1="193.3" y1="980" x2="235.7" y2="980"/>
<circle class="gn" cx="176" cy="853.3" r="4.5"/><circle class="gn" cx="220.7" cy="841" r="4.5"/><circle class="yn" cx="200" cy="847.5" r="4.5"/>
<circle class="gn" cx="193.3" cy="980" r="4.5"/><circle class="gn" cx="235.7" cy="980" r="4.5"/><circle class="yn" cx="213.3" cy="980" r="4.5"/>
<rect class="bx" x="-7" y="-18" width="14" height="36" transform="translate(185,880) rotate(-17.8)"/>
<path class="bx" d="M225.7,855 L240,844.3 Q262,870 248.3,897 L232.7,900 Q240,876 225.7,855 Z"/>
<g class="sf pu" font-size="13" text-anchor="middle"><text x="237.3" y="863">R</text><text x="241.7" y="877">N</text><text x="242.7" y="895">N</text></g>
<g stroke="#555" stroke-width="1.3">
<line x1="201.7" y1="914" x2="225.7" y2="914"/><line x1="201.7" y1="937" x2="225.7" y2="937"/><line x1="201.7" y1="960.5" x2="225.7" y2="960.5"/>
</g>
<rect class="bx" x="184" y="906" width="17.7" height="15.7"/><rect class="bx" x="225.7" y="906" width="18.3" height="15.7"/>
<rect class="bx" x="184" y="929.3" width="17.7" height="15.7"/><rect class="bx" x="225.7" y="929.3" width="18.3" height="15.7"/>
<rect class="bx" x="184" y="952.3" width="17.7" height="16.7"/><rect class="bx" x="225.7" y="952.3" width="18.3" height="16.7"/>
<g class="sf g" font-size="13" text-anchor="middle">
<text x="193" y="918.5">A</text><text x="235" y="918.5">R</text>
<text x="193" y="941.8">G</text><text x="235" y="941.8">A</text>
<text x="193" y="965.3">N</text><text x="235" y="965.3">N</text>
</g>
<g class="p" font-size="11" text-anchor="middle">
<text x="168.3" y="824">3'</text><text x="213.3" y="814">5'</text><text x="194" y="1016.5">5'</text><text x="236.7" y="1016.5">3'</text>
</g>
<text class="cap" x="157.6" y="1114" textLength="117.8">K-turn model</text>
<!-- IL general -->
<rect class="pink" x="290" y="780" width="310" height="354"/>
<g stroke="#000" stroke-width="2.5">
<line x1="323.3" y1="812" x2="323.3" y2="857"/><line x1="358.3" y1="812" x2="358.3" y2="857"/>
<line x1="323.3" y1="873" x2="323.3" y2="899"/><line x1="358.3" y1="873" x2="358.3" y2="899"/>
<polyline points="323.3,914 323.3,921 321,925" fill="none"/><polyline points="358.3,914 358.3,921 361,925" fill="none"/>
<polyline points="321,979 323.3,983 323.3,989" fill="none"/><polyline points="361,979 358.3,983 358.3,989" fill="none"/>
<line x1="323.3" y1="1005" x2="323.3" y2="1029"/><line x1="358.3" y1="1005" x2="358.3" y2="1029"/>
<line x1="323.3" y1="1044" x2="323.3" y2="1083"/><line x1="358.3" y1="1044" x2="358.3" y2="1083"/>
</g>
<g stroke="#fff" stroke-width="2" stroke-dasharray="2,2">
<line x1="323.3" y1="876" x2="323.3" y2="889"/><line x1="358.3" y1="876" x2="358.3" y2="889"/>
<line x1="323.3" y1="1008" x2="323.3" y2="1022"/><line x1="358.3" y1="1008" x2="358.3" y2="1022"/>
</g>
<rect class="bndp" x="320.7" y="818.3" width="41" height="15"/>
<line class="gl" x1="323.3" y1="826" x2="358.3" y2="826"/>
<circle class="gn" cx="323.3" cy="826" r="4"/><circle class="gn" cx="358.3" cy="826" r="4"/><circle class="yn" cx="341" cy="826" r="4"/>
<text class="br" font-size="14" x="341" y="846" text-anchor="middle">H</text>
<line class="tn" x1="330.7" y1="865.7" x2="351.7" y2="865.7"/>
<rect class="bx" x="317.3" y="856.7" width="13.4" height="16.6"/><text class="sn" font-size="10" x="318.5" y="868.5">Li<tspan font-size="6" dy="2">m</tspan></text>
<rect class="bx" x="351.7" y="856.7" width="14.3" height="16.6"/><text class="sn" font-size="10" x="352.5" y="868.5">Ri<tspan font-size="6" dy="2">m</tspan></text>
<text class="br" font-size="10" x="330" y="884">ILi<tspan font-size="6" dy="2">m</tspan></text>
<line class="tn" x1="330.7" y1="906.7" x2="351.7" y2="906.7"/>
<rect class="bx" x="317.3" y="898.3" width="13.4" height="16"/><text class="sn" font-size="10" x="318.5" y="910">Li<tspan font-size="6" dy="2">1</tspan></text>
<rect class="bx" x="351.7" y="898.3" width="14.3" height="16"/><text class="sn" font-size="10" x="352.5" y="910">Ri<tspan font-size="6" dy="2">1</tspan></text>
<text class="br" font-size="10" x="330" y="925">ILi<tspan font-size="6" dy="2">1</tspan></text>
<path class="bx" d="M321,925 A22,27 0 0 0 321,979 L321,971 A11,19 0 0 1 321,933 Z"/>
<path class="bx" d="M361,925 A22,27 0 0 1 361,979 L361,971 A11,19 0 0 0 361,933 Z"/>
<text class="sf" font-size="9" transform="translate(308,952) rotate(90)" text-anchor="middle">Loop_L</text>
<text class="sf" font-size="9" transform="translate(374,952) rotate(90)" text-anchor="middle">Loop_R</text>
<text class="br" font-size="10" x="330" y="980">ILo<tspan font-size="6" dy="2">n</tspan></text>
<line class="tn" x1="330.7" y1="996.7" x2="351.7" y2="996.7"/>
<rect class="bx" x="317.3" y="988.3" width="13.4" height="16.7"/><text class="sn" font-size="10" x="318" y="1000">Lo<tspan font-size="6" dy="2">n</tspan></text>
<rect class="bx" x="351.7" y="988.3" width="14.3" height="16.7"/><text class="sn" font-size="10" x="352" y="1000">Ro<tspan font-size="6" dy="2">n</tspan></text>
<text class="br" font-size="10" x="330" y="1024">ILo<tspan font-size="6" dy="2">1</tspan></text>
<line class="tn" x1="330.7" y1="1036.7" x2="351.7" y2="1036.7"/>
<rect class="bx" x="317.3" y="1028.3" width="13.4" height="16"/><text class="sn" font-size="10" x="318" y="1040">Lo<tspan font-size="6" dy="2">1</tspan></text>
<rect class="bx" x="351.7" y="1028.3" width="14.3" height="16"/><text class="sn" font-size="10" x="352" y="1040">Ro<tspan font-size="6" dy="2">1</tspan></text>
<text class="br" font-size="20" x="330" y="1064">IL</text>
<rect class="bndp" x="320.7" y="1065" width="41" height="15"/>
<line class="gl" x1="323.3" y1="1072.7" x2="358.3" y2="1072.7"/>
<circle class="gn" cx="323.3" cy="1072.7" r="4"/><circle class="gn" cx="358.3" cy="1072.7" r="4"/><circle class="yn" cx="341" cy="1072.7" r="4"/>
<g class="p" font-size="9" text-anchor="middle">
<text x="325" y="811">3'</text><text x="359.3" y="811">5'</text><text x="324" y="1092">5'</text><text x="357.3" y="1092">3'</text>
</g>
<text class="br" font-size="16" x="383" y="821.5">ILi<tspan font-size="10" dy="5">m</tspan></text>
<line class="ar" x1="418.7" y1="816.3" x2="446.5" y2="816.3"/>
<rect class="bx" x="465" y="805.7" width="24" height="17.3"/><text class="sn" font-size="12" x="469" y="818.5">Li<tspan font-size="7" dy="3">m</tspan></text>
<text class="br" font-size="18" x="523.5" y="822" text-anchor="middle">H</text>
<rect class="bx" x="557" y="805.7" width="23.6" height="17.3"/><text class="sn" font-size="12" x="560" y="818.5">Ri<tspan font-size="7" dy="3">m</tspan></text>
<circle cx="427" cy="841" r="1.1" fill="#aaa"/><circle cx="427" cy="846" r="1.1" fill="#aaa"/><circle cx="427" cy="851" r="1.1" fill="#aaa"/><circle cx="427" cy="856" r="1.1" fill="#aaa"/>
<text class="br" font-size="16" x="383" y="877.5">ILi<tspan font-size="10" dy="5">2</tspan></text>
<line class="ar" x1="418.7" y1="872.3" x2="446.5" y2="872.3"/>
<rect class="bx" x="465" y="863" width="24" height="17.7"/><text class="sn" font-size="12" x="469" y="876">Li<tspan font-size="7" dy="3">2</tspan></text>
<text class="br" font-size="16" x="507.6" y="877.5">ILi<tspan font-size="10" dy="5">3</tspan></text>
<rect class="bx" x="557" y="863" width="23.6" height="17.7"/><text class="sn" font-size="12" x="560" y="876">Ri<tspan font-size="7" dy="3">2</tspan></text>
<text class="br" font-size="16" x="383" y="916">ILi<tspan font-size="10" dy="5">1</tspan></text>
<line class="ar" x1="418.7" y1="910.7" x2="446.5" y2="910.7"/>
<rect class="bx" x="465" y="900.7" width="24" height="17.3"/><text class="sn" font-size="12" x="469" y="914">Li<tspan font-size="7" dy="3">1</tspan></text>
<text class="br" font-size="16" x="507.6" y="916">ILi<tspan font-size="10" dy="5">2</tspan></text>
<rect class="bx" x="557" y="900.7" width="23.6" height="17.3"/><text class="sn" font-size="12" x="560" y="914">Ri<tspan font-size="7" dy="3">1</tspan></text>
<text class="br" font-size="16" x="384" y="980">ILo<tspan font-size="10" dy="5">n</tspan></text>
<line class="ar" x1="420.6" y1="974.7" x2="447" y2="974.7"/>
<rect class="bx" x="452.8" y="965" width="50" height="18"/><text class="sn" font-size="12" x="477.8" y="978.5" text-anchor="middle">Loop_L</text>
<text class="br" font-size="16" x="507.6" y="980">ILi<tspan font-size="10" dy="5">1</tspan></text>
<rect class="bx" x="544" y="965" width="52.5" height="18"/><text class="sn" font-size="12" x="570.2" y="978.5" text-anchor="middle">Loop_R</text>
<circle cx="428" cy="991" r="1.1" fill="#aaa"/><circle cx="428" cy="996" r="1.1" fill="#aaa"/><circle cx="428" cy="1001" r="1.1" fill="#aaa"/><circle cx="428" cy="1006" r="1.1" fill="#aaa"/>
<text class="br" font-size="16" x="384" y="1025">ILo<tspan font-size="10" dy="5">1</tspan></text>
<line class="ar" x1="420.6" y1="1019.7" x2="447" y2="1019.7"/>
<rect class="bx" x="467" y="1010" width="23" height="17"/><text class="sn" font-size="12" x="469" y="1023">Lo<tspan font-size="7" dy="3">2</tspan></text>
<text class="br" font-size="16" x="508.7" y="1025">ILo<tspan font-size="10" dy="5">2</tspan></text>
<rect class="bx" x="558.7" y="1010" width="23.7" height="17"/><text class="sn" font-size="12" x="560.5" y="1023">Ro<tspan font-size="7" dy="3">2</tspan></text>
<text class="br" font-size="22" x="385" y="1066">IL</text>
<line class="ar" x1="420.6" y1="1058" x2="447" y2="1058"/>
<rect class="bx" x="467" y="1048.7" width="23" height="17"/><text class="sn" font-size="12" x="469" y="1061.5">Lo<tspan font-size="7" dy="3">1</tspan></text>
<text class="br" font-size="16" x="508.7" y="1063">ILo<tspan font-size="10" dy="5">1</tspan></text>
<rect class="bx" x="558.7" y="1048.7" width="23.7" height="17"/><text class="sn" font-size="12" x="560.5" y="1061.5">Ro<tspan font-size="7" dy="3">1</tspan></text>
<text class="cap" x="355.8" y="1114" textLength="200">IL-motif general SCFG</text>
<!-- table c -->
<rect class="tab" x="40" y="1155" width="553" height="50"/>
<text class="tb10" x="43.5" y="1173.5">#IL</text>
<rect class="bx" x="66" y="1162.7" width="41" height="14"/><text class="tb10" x="68" y="1173.5">Loop-L</text>
<text class="tb10" x="107.6" y="1173.5">(5'-3')</text>
<rect class="bx" x="152.8" y="1162.7" width="42.6" height="14"/><text class="tb10" x="155" y="1173.5">Loop-R</text>
<text class="tb10" x="196.5" y="1173.5">(5'-3')</text>
<rect class="bx" x="240" y="1162.7" width="29.5" height="14"/><text class="tb10" x="242" y="1173.5">Lo<tspan font-size="5" dy="2">1-n</tspan></text>
<text class="tb10" x="270.6" y="1173.5">(5'-3')</text>
<rect class="bx" x="314" y="1162.7" width="29.6" height="14"/><text class="tb10" x="316" y="1173.5">Ro<tspan font-size="5" dy="2">1-n</tspan></text>
<text class="tb10" x="344.7" y="1173.5">(5'-3')</text>
<rect class="bx" x="388" y="1162.7" width="29.6" height="14"/><text class="tb10" x="390" y="1173.5">Li<tspan font-size="5" dy="2">1-n</tspan></text>
<text class="tb10" x="418.7" y="1173.5">(5'-3')</text>
<rect class="bx" x="462.4" y="1162.7" width="29.3" height="14"/><text class="tb10" x="464.5" y="1173.5">Ri<tspan font-size="5" dy="2">1-n</tspan></text>
<text class="tb10" x="492.8" y="1173.5">(5'-3')</text>
<text class="tb10" x="541" y="1173.5">name</text>
<text class="tb10" x="43.5" y="1186" textLength="535">#------------------------------------------------------------------------------------------</text>
<text class="tb10" x="43.5" y="1198.5">IL</text><text class="tb10" x="70" y="1198.5">-</text><text class="tb10" x="157" y="1198.5">RNN</text><text class="tb10" x="238" y="1198.5">N,G,A</text><text class="tb10" x="314" y="1198.5">N,A,R</text><text class="tb10" x="392.8" y="1198.5">-</text><text class="tb10" x="467" y="1198.5">-</text><text class="tb10" x="541" y="1198.5">K-turn</text>

<!-- ================= PANEL F ================= -->
<rect class="frame" x="616" y="729.7" width="654" height="240"/>
<text class="pl" x="624" y="761">(f)</text>
<text class="ttl" x="835.7" y="760.3" textLength="211">BS motif SCFG</text>
<!-- T-loop -->
<rect class="bnd" x="678.8" y="754" width="62" height="25.7"/>
<rect class="bnd" x="821" y="791.3" width="25" height="67.4"/>
<polygon class="bnd" points="693.9,849.8 699.3,834.8 764.1,858.2 758.7,873.2"/>
<g stroke="#000" stroke-width="1.2" fill="none">
<line x1="690" y1="756.3" x2="690" y2="771.3"/><line x1="737.3" y1="756.3" x2="737.3" y2="771.3"/>
<line x1="737.3" y1="771.3" x2="829.4" y2="799.7"/>
<line x1="829.4" y1="799.7" x2="846" y2="799.7"/><line x1="829.4" y1="847.3" x2="846" y2="847.3"/>
<line x1="690" y1="771.3" x2="678" y2="814"/>
<line x1="829.4" y1="847.3" x2="796" y2="868"/>
<polyline points="703.5,834 706,845.7 704.7,859.7"/>
<line x1="752" y1="862.3" x2="749" y2="874.7"/>
</g>
<line x1="678" y1="814" x2="706" y2="845.7" stroke="#000" stroke-width="1.2" stroke-dasharray="2,2"/>
<line x1="796" y1="868" x2="752" y2="862.3" stroke="#000" stroke-width="1.2" stroke-dasharray="2,2"/>
<line class="gl" x1="690" y1="771.3" x2="737.3" y2="771.3"/>
<line class="gl" x1="829.4" y1="799.7" x2="829.4" y2="847.3"/>
<line class="gl" x1="706" y1="845.7" x2="752" y2="862.3"/>
<circle class="gn" cx="690" cy="771.3" r="4.5"/><circle class="gn" cx="737.3" cy="771.3" r="4.5"/><circle class="yn" cx="713" cy="771.3" r="4.5"/>
<circle class="gn" cx="829.4" cy="799.7" r="4.5"/><circle class="gn" cx="829.4" cy="847.3" r="4.5"/><circle class="yn" cx="830" cy="824" r="4.5"/>
<circle class="gn" cx="706" cy="845.7" r="4.5"/><circle class="gn" cx="752" cy="862.3" r="4.5"/><circle class="yn" cx="728" cy="854" r="4.5"/>
<g class="bn"><circle cx="755.3" cy="777.3" r="4.3"/><circle cx="770" cy="781.3" r="4.3"/><circle cx="785.5" cy="787.3" r="4.3"/><circle cx="800" cy="792" r="4.3"/><circle cx="813.5" cy="797" r="4.3"/></g>
<g class="sf pu" font-size="13" text-anchor="middle">
<text x="756" y="768">U</text><text x="771.6" y="774">K</text><text x="786.7" y="779.5">N</text><text x="800" y="784">R</text><text x="816" y="789">W</text>
</g>
<g class="sf" font-size="12" text-anchor="middle">
<text x="691.3" y="749">3'</text><text x="738.6" y="749">5'</text>
<text x="856.6" y="806.5">3'</text><text x="856.6" y="855">5'</text>
<text x="701.8" y="876.5">5'</text><text x="749" y="888.5">3'</text>
</g>
<text class="cap" x="760" y="897" textLength="59">T-loop</text>
<rect class="pink" x="875.4" y="781.3" width="377.6" height="122.7"/>
<text class="br" font-size="31" x="931" y="835.5">BS</text>
<line class="ar" x1="994.7" y1="824.7" x2="1047" y2="824.7"/>
<rect class="bx" x="1077.5" y="807" width="70.5" height="34.3"/>
<text class="sn" font-size="24" x="1112.7" y="833" text-anchor="middle">Loop</text>
<text class="cap" x="948.6" y="898" textLength="209.5">BS-motif general SCFG</text>
<!-- table f -->
<rect class="tab" x="808.5" y="910.7" width="247.5" height="55.6"/>
<text class="tb" x="814.7" y="932">#BS</text>
<rect class="bx" x="868.3" y="921.3" width="79.5" height="14"/><text class="tb" x="871.5" y="932">Loop(5'-3')</text>
<text class="tb" x="983.4" y="932">name</text>
<text class="tb" x="814.7" y="944" textLength="230">#----------------------------------</text>
<text class="tb" x="814.7" y="959">BS</text><text class="tb" x="871.2" y="959">UKNRW</text><text class="tb" x="983.4" y="959">T-loop</text>

<!-- ================= PANEL G ================= -->
<rect class="frame" x="616" y="976.7" width="654" height="260"/>
<text class="pl" x="624" y="1008">(g)</text>
<rect x="737" y="982.3" width="396.6" height="28.7" fill="#eefafa" stroke="#999" stroke-width="1"/>
<text x="741.5" y="1005" font-family="Liberation Mono, monospace" font-size="26" fill="#111" textLength="296">sequence motif HMM[</text>
<text class="sn" x="1039" y="1004" font-size="17">S<tspan font-size="9" dy="3">1</tspan><tspan dy="-3">S</tspan><tspan font-size="9" dy="3">2</tspan><tspan dy="-3">···S</tspan><tspan font-size="9" dy="3">L</tspan></text>
<text x="1108" y="1005" font-family="Liberation Mono, monospace" font-size="26" fill="#111">]</text>
<rect x="711.4" y="1020" width="447.6" height="120.7" fill="#e9f5f5" stroke="#c4cccc" stroke-width="1"/>
<!-- arrows -->
<line class="ar2" x1="738.5" y1="1098.3" x2="775" y2="1098.3"/>
<line class="ar2" x1="732" y1="1089.5" x2="750" y2="1053"/>
<path class="ar2" d="M770.7,1046 C784,1040 784,1023 772,1027 L763,1036.5"/>
<line class="ar2" x1="770.7" y1="1053" x2="785" y2="1085"/>
<line class="ar2" x1="801.5" y1="1098.3" x2="829" y2="1098.3"/>
<line class="ar2" x1="852.4" y1="1098.3" x2="882.5" y2="1098.3"/>
<path class="ar2" d="M888,1087 C888,1062 905,1050 922.5,1047"/>
<line class="ar2" x1="903" y1="1085.5" x2="926" y2="1061"/>
<path class="ar2" d="M943.5,1046 C957,1040 957,1023 945,1027 L936,1036.5"/>
<line class="ar2" x1="943.5" y1="1053" x2="961" y2="1085"/>
<line class="ar2" x1="910.5" y1="1098.3" x2="951" y2="1098.3"/>
<path class="ar2" d="M897,1111.8 C905,1135 945,1132 958,1111"/>
<line class="ar2" x1="979" y1="1098.3" x2="1005" y2="1098.3"/>
<line class="ar2" x1="1032" y1="1098.3" x2="1059.5" y2="1098.3"/>
<path class="ar2" d="M1065,1087 C1065,1062 1080,1050 1094,1047"/>
<line class="ar2" x1="1080" y1="1085.5" x2="1098" y2="1061"/>
<path class="ar2" d="M1116,1046 C1129,1040 1129,1023 1117,1027 L1108,1036.5"/>
<line class="ar2" x1="1115" y1="1053" x2="1132" y2="1088"/>
<line class="ar2" x1="1087.5" y1="1098.3" x2="1126.5" y2="1098.3"/>
<path class="ar2" d="M1074,1111.8 C1085,1135 1120,1132 1132,1107"/>
<g fill="#555"><circle cx="836" cy="1098.3" r="1.2"/><circle cx="841" cy="1098.3" r="1.2"/><circle cx="846" cy="1098.3" r="1.2"/>
<circle cx="1013" cy="1098.3" r="1.2"/><circle cx="1019" cy="1098.3" r="1.2"/><circle cx="1025" cy="1098.3" r="1.2"/></g>
<!-- states -->
<g fill="#f6fbfb" stroke="#000" stroke-width="1.2">
<circle cx="729" cy="1098.3" r="9.5"/><circle cx="788.8" cy="1098.3" r="12.5"/><circle cx="897" cy="1098.3" r="13.5"/><circle cx="965.4" cy="1098.3" r="13.5"/><circle cx="1074" cy="1098.3" r="13.5"/><circle cx="1137" cy="1098.3" r="9.5"/>
<rect x="750.7" y="1038.3" width="20" height="21.7"/><rect x="923.5" y="1038.3" width="21" height="21.7"/><rect x="1095" y="1038.3" width="21" height="21.7"/>
</g>
<g class="sf" fill="#000">
<text x="729" y="1103" font-size="13" text-anchor="middle">B</text>
<text x="1137" y="1103" font-size="13" text-anchor="middle">E</text>
<text x="782" y="1103.5" font-size="15">S<tspan font-size="8" dy="4">1</tspan></text>
<text x="890" y="1103.5" font-size="15">S<tspan font-size="8" dy="4">i</tspan></text>
<text x="955" y="1103.5" font-size="15">S<tspan font-size="7" dy="4">i+1</tspan></text>
<text x="1066" y="1103.5" font-size="15">S<tspan font-size="8" dy="4">L</tspan></text>
<text x="755.5" y="1054" font-size="14">I<tspan font-size="8" dy="3">0</tspan></text>
<text x="929.5" y="1054" font-size="14">I<tspan font-size="8" dy="3">i</tspan></text>
<text x="1100" y="1054" font-size="14">I<tspan font-size="8" dy="3">L</tspan></text>
</g>
<!-- small squares -->
<g><rect class="sqp" x="770" y="1028.3" width="8" height="8"/><rect class="sqp" x="774.3" y="1061" width="8" height="8"/>
<rect class="sqp" x="941.7" y="1027" width="8" height="8"/><rect class="sqp" x="947.6" y="1061" width="8" height="8"/>
<rect class="sqp" x="1115.3" y="1029.3" width="8" height="8"/><rect class="sqp" x="1122.5" y="1061.7" width="8" height="8"/>
<rect class="sqb" x="907" y="1073.7" width="8" height="8"/><rect class="sqb" x="921.6" y="1095.3" width="8" height="8"/>
<rect class="sqb" x="1086" y="1072.7" width="8" height="8"/><rect class="sqb" x="1100.7" y="1095.3" width="8" height="8"/></g>
<g fill="none" stroke-width="1"><circle cx="774" cy="1032.3" r="2" stroke="#a050c0"/><circle cx="778.3" cy="1065" r="2" stroke="#a050c0"/><circle cx="945.7" cy="1031" r="2" stroke="#a050c0"/><circle cx="951.6" cy="1065" r="2" stroke="#a050c0"/><circle cx="1119.3" cy="1033.3" r="2" stroke="#a050c0"/><circle cx="1126.5" cy="1065.7" r="2" stroke="#a050c0"/>
<circle cx="911" cy="1077.7" r="2" stroke="#3355ee"/><circle cx="925.6" cy="1099.3" r="2" stroke="#3355ee"/><circle cx="1090" cy="1076.7" r="2" stroke="#3355ee"/><circle cx="1104.7" cy="1099.3" r="2" stroke="#3355ee"/></g>
<!-- gray labels -->
<g class="gy" font-size="13">
<text x="783" y="1036">t<tspan font-size="8" dy="3">I</tspan></text>
<text x="785" y="1069.5">1-t<tspan font-size="8" dy="3">I</tspan></text>
<text x="713" y="1069.5">1-t<tspan font-size="8" dy="3">0</tspan></text>
<text x="750" y="1111">t<tspan font-size="8" dy="3">0</tspan></text>
<text x="884" y="1066">t<tspan font-size="8" dy="3">DI</tspan></text>
<text x="917" y="1083">t<tspan font-size="8" dy="3">MI</tspan></text>
<text x="955" y="1035">t<tspan font-size="8" dy="3">I</tspan></text>
<text x="955" y="1069.5">1-t<tspan font-size="8" dy="3">I</tspan></text>
<text x="920" y="1115">t<tspan font-size="8" dy="3">M</tspan></text>
<text x="924" y="1134">t<tspan font-size="8" dy="3">D</tspan></text>
<text x="1061" y="1066">t<tspan font-size="8" dy="3">DI</tspan></text>
<text x="1097" y="1082">t<tspan font-size="8" dy="3">MI</tspan></text>
<text x="1127" y="1037">t<tspan font-size="8" dy="3">I</tspan></text>
<text x="1133" y="1069.5">1-t<tspan font-size="8" dy="3">I</tspan></text>
<text x="1101" y="1116">t<tspan font-size="8" dy="3">M</tspan></text>
<text x="1103" y="1134">t<tspan font-size="8" dy="3">D</tspan></text>
<text x="722.7" y="1131" font-size="15">t<tspan font-size="8" dy="3">M</tspan><tspan dy="-3"> + t</tspan><tspan font-size="8" dy="3">D</tspan><tspan dy="-3"> + t</tspan><tspan font-size="8" dy="3">MI</tspan><tspan dy="-3"> + t</tspan><tspan font-size="8" dy="3">DI</tspan><tspan dy="-3"> = 1</tspan></text>
</g>
<text class="sf" font-size="10" x="1166" y="1102">S<tspan font-size="6" dy="2">L+1</tspan><tspan dy="-2">= E</tspan></text>
<!-- rules -->
<g class="sf" fill="#000">
<text x="850" y="1164" font-size="17">S<tspan font-size="9" dy="4">i</tspan></text>
<text x="840" y="1177.5" font-size="8" font-weight="normal">1 ≤ i ≤ L</text>
<text x="910" y="1164" font-size="17">S<tspan font-size="8" dy="4">i+1</tspan></text>
<text x="954" y="1164" font-size="17">S<tspan font-size="8" dy="4">i+1</tspan></text>
<text x="1010" y="1164" font-size="17">I<tspan font-size="9" dy="4">i</tspan></text>
<text x="1040" y="1164" font-size="17">I<tspan font-size="9" dy="4">i</tspan></text>
<text x="855" y="1199" font-size="17">I<tspan font-size="9" dy="4">i</tspan></text>
<text x="840" y="1212" font-size="8" font-weight="normal">0 ≤ i ≤ L</text>
<text x="912" y="1199" font-size="17">I<tspan font-size="9" dy="4">i</tspan></text>
<text x="958" y="1199" font-size="17">S<tspan font-size="8" dy="4">i+1</tspan></text>
</g>
<line x1="870.4" y1="1158" x2="893" y2="1158" stroke="#000" stroke-width="2" marker-end="url(#ah)"/>
<line x1="870.4" y1="1193" x2="893" y2="1193" stroke="#000" stroke-width="2" marker-end="url(#ah)"/>
<g stroke="#888" stroke-width="1.2">
<line x1="944.5" y1="1148" x2="944.5" y2="1168"/><line x1="989.6" y1="1148" x2="989.6" y2="1168"/><line x1="1030" y1="1148" x2="1030" y2="1168"/><line x1="942.4" y1="1183" x2="942.4" y2="1203"/>
</g>
<g fill="none" stroke-width="2.2">
<ellipse cx="903.9" cy="1159.5" rx="2.8" ry="3.5" stroke="#2255ee"/>
<ellipse cx="1004.3" cy="1159.5" rx="2.8" ry="3.5" stroke="#2255ee"/>
<ellipse cx="904.7" cy="1194.5" rx="2.8" ry="3.5" stroke="#a060b0"/>
<ellipse cx="952.8" cy="1194.5" rx="2.8" ry="3.5" stroke="#a060b0"/>
<ellipse cx="1125.6" cy="1168" rx="2.8" ry="3.5" stroke="#2255ee"/>
<ellipse cx="1125.6" cy="1192" rx="2.8" ry="3.5" stroke="#906080"/>
</g>
<text class="sn" x="1135" y="1171.5" font-size="9.5" fill="#3366dd">motif position</text>
<text class="sn" x="1202" y="1172" font-size="15">P<tspan font-size="8" dy="3">Si</tspan><tspan dy="-3"> (</tspan><tspan fill="#2255ee" font-weight="bold">O</tspan><tspan>)</tspan></text>
<text class="sn" x="1133" y="1195.5" font-size="9.5" fill="#a07090">indel position</text>
<text class="sn" x="1198" y="1196" font-size="15">P<tspan font-size="8" dy="3">indel</tspan><tspan dy="-3">(</tspan><tspan fill="#906080" font-weight="bold">O</tspan><tspan>)</tspan></text>
<rect x="773" y="1214.3" width="325.4" height="20.7" fill="#eefafa" stroke="#888" stroke-width="1"/>
<text x="778" y="1229" font-family="Liberation Mono, monospace" font-weight="bold" font-size="13" fill="#111" textLength="314">P(o...o) = Forward(o...o|HMM[S<tspan font-size="7" dy="2">1</tspan><tspan dy="-2">S</tspan><tspan font-size="7" dy="2">2</tspan><tspan dy="-2">··· S</tspan><tspan font-size="7" dy="2">L</tspan><tspan dy="-2">])</tspan></text>
</svg>
</body></html>
